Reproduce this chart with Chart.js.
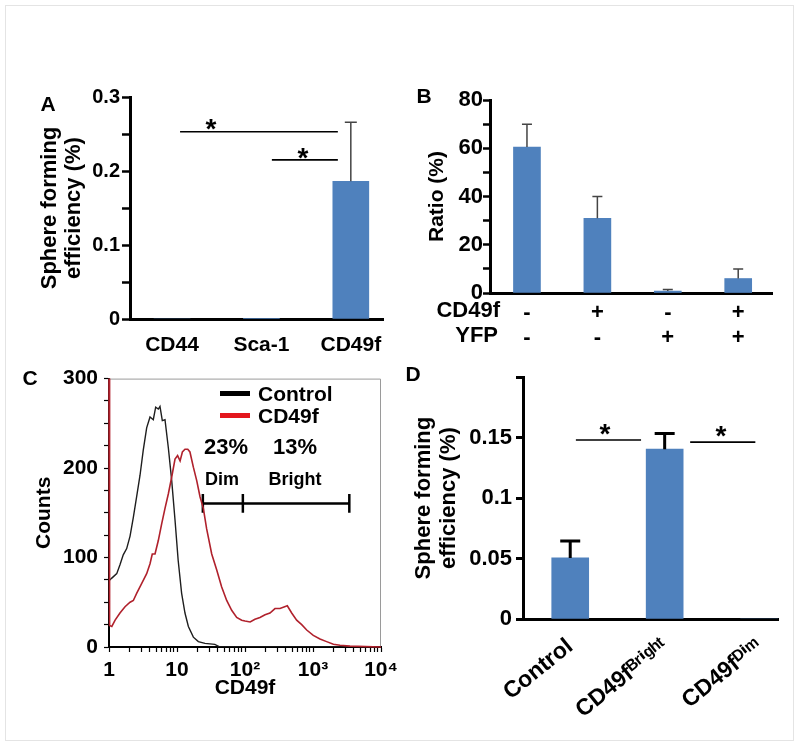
<!DOCTYPE html>
<html>
<head>
<meta charset="utf-8">
<script src="https://cdn.jsdelivr.net/npm/chart.js@4"></script>
<style>
  body { margin: 0; width: 800px; height: 749px; position: relative; overflow: hidden; background: #fff;
         font-family: "Liberation Sans", Arial, "DejaVu Sans", sans-serif; font-weight: bold; color: #000; }
  .frame { position: absolute; left: 5px; top: 5px; width: 789px; height: 736px; box-sizing: border-box; border: 1px solid #e4e4e4; }
  canvas { position: absolute; }
  .t { position: absolute; white-space: nowrap; line-height: 1; transform: translate(-50%, -50%); }
  .l { transform: translate(0, -50%); }
  .r { transform: translate(-100%, -50%); }
  .sw { position: absolute; height: 5px; }
</style>
</head>
<body>
<div class="frame"></div>

<canvas id="cA" width="400" height="320" style="left:0;top:60px"></canvas>
<canvas id="cB" width="400" height="300" style="left:400px;top:60px"></canvas>
<canvas id="cC" width="400" height="360" style="left:0;top:360px"></canvas>
<canvas id="cD" width="400" height="380" style="left:400px;top:360px"></canvas>

<!-- panel letters -->
<div class="t" style="left:48px;top:103px;font-size:21px">A</div>
<div class="t" style="left:424px;top:95px;font-size:21px">B</div>
<div class="t" style="left:30px;top:377px;font-size:21px">C</div>
<div class="t" style="left:413px;top:373px;font-size:21px">D</div>

<!-- significance stars -->
<div class="t" style="left:211px;top:129px;font-size:28px">*</div>
<div class="t" style="left:303px;top:158px;font-size:28px">*</div>
<div class="t" style="left:605px;top:434px;font-size:28px">*</div>
<div class="t" style="left:721px;top:436px;font-size:28px">*</div>

<!-- panel B row headers -->
<div class="t r" style="left:500px;top:310px;font-size:22px">CD49f</div>
<div class="t r" style="left:498px;top:335px;font-size:22px">YFP</div>

<!-- panel C legend and gate labels -->
<div class="sw" style="left:220px;top:391px;width:30px;background:#000"></div>
<div class="t l" style="left:258px;top:393px;font-size:21px">Control</div>
<div class="sw" style="left:220px;top:413px;width:30px;background:#e3161d"></div>
<div class="t l" style="left:258px;top:415px;font-size:21px">CD49f</div>
<div class="t" style="left:226px;top:447px;font-size:22px">23%</div>
<div class="t" style="left:295px;top:447px;font-size:22px">13%</div>
<div class="t" style="left:222px;top:479px;font-size:18px">Dim</div>
<div class="t" style="left:295px;top:479px;font-size:18px">Bright</div>

<script>
// ---- panel A: sphere forming efficiency by marker
const aLabels = ["CD44", "Sca-1", "CD49f"];
const aValues = [0, 0.0008, 0.186];
const aErrors = [0, 0, 0.08];

// ---- panel B: ratio by CD49f / YFP status
const bCd49f = ["-", "+", "-", "+"];
const bYfp = ["-", "-", "+", "+"];
const bValues = [60.5, 31, 0.8, 6];
const bErrors = [9.5, 9, 0.7, 4];

// ---- panel C: flow histogram (CD49f intensity, counts)
const ctrlX = [1.0, 1.1, 1.3, 1.45, 1.62, 1.82, 2.04, 2.28, 2.55, 2.86, 3.19, 3.58, 4.01, 4.48, 4.86,
  5.31, 5.62, 6.08, 6.66, 7.45, 8.36, 9.35, 10.4, 11.7, 13.1, 14.7, 17.4, 20.6, 25.8, 36, 43, 10000];
const ctrlY = [74, 77, 82, 92, 103, 110, 124, 145, 168, 192, 220, 245, 257, 254, 268,
  266, 269, 253, 254, 223, 186, 142, 97, 60, 38, 23, 11, 6, 4, 3, 0, 0];
const cd49fX = [1.0, 1.02, 1.1, 1.23, 1.45, 1.72, 2.04, 2.28, 2.55, 3.03, 3.58, 4.01, 4.33, 4.75, 5.31,
  5.96, 6.66, 7.45, 8.36, 9.35, 10.2, 11.1, 12.0, 13.1, 14.4, 15.5, 17.4, 19.5, 21.8, 24.4, 27.3, 32.4,
  38.4, 45.4, 53.8, 63.7, 75.5, 89.4, 100, 119, 140, 166, 197, 233, 276, 327, 419, 486, 575, 682, 808,
  1010, 1267, 1585, 1995, 2495, 3500, 10000];
const cd49fY = [300, 24, 23, 30, 38, 45, 50, 52, 60, 71, 82, 93, 104, 104, 119,
  138, 155, 171, 190, 210, 214, 208, 218, 221, 221, 218, 201, 186, 168, 155, 132, 104,
  86, 67, 52, 41, 33, 30, 29, 28, 31, 33, 36, 38, 43, 43, 46, 38, 30, 25, 19,
  13, 9, 6, 3, 2, 1, 0];
const gateX = [24, 93, 3420];
const gateY = 160.5;
const gateCap = 10.5;
const cMajor = [1, 10, 100, 1000, 10000];
const cMajorLabels = ["1", "10", "10²", "10³", "10⁴"];

// ---- panel D: sorted populations
const dLabels = ["Control", "CD49fᴮʳⁱᵍʰᵗ", "CD49fᴰⁱᵐ"];
const dValues = [0.0505, 0.1405, 0];
const dErrors = [0.014, 0.013, 0];

const BLUE = "#4f81bd";

Chart.defaults.font.family = "'Liberation Sans', Arial, 'DejaVu Sans', sans-serif";
Chart.defaults.font.weight = "bold";
Chart.defaults.color = "#000";
Chart.defaults.animation = false;
Chart.defaults.responsive = false;
Chart.defaults.plugins.legend.display = false;
Chart.defaults.plugins.tooltip.enabled = false;

const errorBars = {
  id: "errorBars",
  afterDatasetsDraw(chart, args, o) {
    const { ctx } = chart;
    const y = chart.scales.y;
    const bars = chart.getDatasetMeta(0).data;
    ctx.save();
    ctx.strokeStyle = o.color;
    ctx.lineWidth = o.width;
    o.errors.forEach((e, i) => {
      if (!e) return;
      const x = bars[i].x;
      const top = y.getPixelForValue(o.values[i] + e);
      ctx.beginPath();
      ctx.moveTo(x, bars[i].y);
      ctx.lineTo(x, top);
      ctx.moveTo(x - o.cap / 2, top);
      ctx.lineTo(x + o.cap / 2, top);
      ctx.stroke();
    });
    ctx.restore();
  },
};

const boxFrame = {
  id: "boxFrame",
  beforeDatasetsDraw(chart, args, o) {
    const { ctx, chartArea: a } = chart;
    ctx.save();
    ctx.strokeStyle = o.color;
    ctx.lineWidth = 1;
    ctx.beginPath();
    ctx.moveTo(a.left, a.top + 0.5);
    ctx.lineTo(a.right - 0.5, a.top + 0.5);
    ctx.lineTo(a.right - 0.5, a.bottom);
    ctx.stroke();
    ctx.restore();
  },
};

function sigLine(x0, x1, y) {
  return {
    type: "line", data: [{ x: x0, y }, { x: x1, y }],
    borderColor: "#000", borderWidth: 1.6, pointRadius: 0,
  };
}

function yAxis(o) {
  return {
    min: o.min, max: o.max,
    afterFit: (s) => { s.width = o.width; },
    ticks: { stepSize: o.step, callback: o.fmt, font: { size: o.size }, padding: o.pad, autoSkip: false },
    grid: { drawOnChartArea: false, drawTicks: true, tickLength: o.tick, tickWidth: o.tickWidth, tickColor: "#000" },
    border: { display: true, color: "#000", width: o.border },
    title: o.title,
  };
}

function catAxis(o) {
  return {
    type: "linear", offset: false, min: o.min, max: o.max,
    afterBuildTicks: (s) => { s.ticks = o.labels.map((_, i) => ({ value: i + 1 })); },
    afterFit: (s) => { s.height = o.height; },
    grid: { display: false },
    border: { display: true, color: "#000", width: o.border },
    ticks: {
      callback: (v) => o.labels[v - 1], font: { size: o.size, lineHeight: o.lineHeight || 1.2 },
      padding: o.pad, autoSkip: false, minRotation: o.rot || 0, maxRotation: o.rot || 0,
    },
  };
}

// ---------- A
new Chart(document.getElementById("cA"), {
  type: "bar",
  data: {
    datasets: [
      { data: aValues.map((v, i) => ({ x: i + 1, y: v })), backgroundColor: BLUE, barThickness: 36 },
      sigLine(1.09, 2.855, 0.253),
      sigLine(2.117, 2.855, 0.215),
    ],
  },
  options: {
    layout: { padding: { top: 37, right: 17, left: 0, bottom: 0 } },
    plugins: { errorBars: { values: aValues, errors: aErrors, color: "#444", width: 1.5, cap: 12 } },
    scales: {
      x: catAxis({ labels: aLabels, min: 0.53, max: 3.36, height: 61, size: 21, pad: 6, border: 3 }),
      y: yAxis({
        min: 0, max: 0.3, step: 0.05, width: 130, size: 20, pad: 2, tick: 8, tickWidth: 2.5, border: 3,
        fmt: (v) => { const r = Math.round(v * 100); return r % 10 === 0 ? String(r / 100) : ""; },
        title: { display: true, text: ["Sphere forming", "efficiency (%)"], font: { size: 22, lineHeight: 1.1 }, padding: { top: 38, bottom: 0 } },
      }),
    },
  },
  plugins: [errorBars],
});

// ---------- B
new Chart(document.getElementById("cB"), {
  type: "bar",
  data: {
    datasets: [
      { data: bValues.map((v, i) => ({ x: i + 1, y: v })), backgroundColor: BLUE, barThickness: 27 },
    ],
  },
  options: {
    layout: { padding: { top: 40, right: 28, left: 0, bottom: 0 } },
    plugins: { errorBars: { values: bValues, errors: bErrors, color: "#444", width: 1.5, cap: 10 } },
    scales: {
      x: catAxis({
        labels: bCd49f.map((c, i) => [c, bYfp[i]]), min: 0.475, max: 4.48, height: 67,
        size: 22, lineHeight: 1.12, pad: 0, border: 3,
      }),
      y: yAxis({
        min: 0, max: 80, step: 10, width: 90, size: 22, pad: 0, tick: 7, tickWidth: 2.5, border: 3,
        fmt: (v) => (v % 20 === 0 ? String(v) : ""),
        title: { display: true, text: "Ratio (%)", font: { size: 21, lineHeight: 1.2 }, padding: { top: 25, bottom: 0 } },
      }),
    },
  },
  plugins: [errorBars],
});

// ---------- C
const gateData = [
  { x: gateX[0], y: gateY - gateCap }, { x: gateX[0], y: gateY + gateCap }, { x: gateX[0], y: null },
  { x: gateX[0], y: gateY }, { x: gateX[2], y: gateY }, { x: gateX[2], y: null },
  { x: gateX[1], y: gateY - gateCap }, { x: gateX[1], y: gateY + gateCap }, { x: gateX[1], y: null },
  { x: gateX[2], y: gateY - gateCap }, { x: gateX[2], y: gateY + gateCap },
];

new Chart(document.getElementById("cC"), {
  type: "line",
  data: {
    datasets: [
      { data: cd49fX.map((x, i) => ({ x, y: cd49fY[i] })), borderColor: "#b0212c", borderWidth: 1.6, pointRadius: 0, clip: false },
      { data: ctrlX.map((x, i) => ({ x, y: ctrlY[i] })), borderColor: "#1e1e1e", borderWidth: 1.4, pointRadius: 0 },
      { data: gateData, borderColor: "#000", borderWidth: 2.5, pointRadius: 0, spanGaps: false },
    ],
  },
  options: {
    layout: { padding: { top: 18, right: 19, left: 0, bottom: 0 } },
    plugins: { boxFrame: { color: "#9a9a9a" } },
    scales: {
      x: {
        type: "logarithmic", min: 1, max: 10000,
        afterBuildTicks: (s) => {
          const t = [];
          for (let d = 1; d < 10000; d *= 10) for (let k = 1; k < 10; k++) t.push({ value: d * k });
          t.push({ value: 10000 });
          s.ticks = t;
        },
        // keep the plot right edge where the figure has it, the last label may overhang
        afterFit: (s) => { s.height = 73; s.paddingLeft = 0; s.paddingRight = 0; },
        ticks: {
          callback: (v) => { const i = cMajor.indexOf(v); return i >= 0 ? cMajorLabels[i] : ""; },
          font: { size: 21 }, padding: 6, autoSkip: false, maxRotation: 0, minRotation: 0,
        },
        grid: { drawOnChartArea: false, drawTicks: true, tickLength: 5, tickWidth: 1.2, tickColor: "#000" },
        border: { display: true, color: "#000", width: 2 },
        title: { display: true, text: "CD49f", font: { size: 21, lineHeight: 1.2 }, padding: { top: 0, bottom: 19 } },
      },
      y: yAxis({
        min: 0, max: 300, step: 25, width: 109, size: 21, pad: 6, tick: 5, tickWidth: 1.2, border: 2,
        fmt: (v) => (v % 100 === 0 ? String(v) : ""),
        title: { display: true, text: "Counts", font: { size: 21, lineHeight: 1.2 }, padding: { top: 32, bottom: 0 } },
      }),
    },
  },
  plugins: [boxFrame],
});

// ---------- D
new Chart(document.getElementById("cD"), {
  type: "bar",
  data: {
    datasets: [
      { data: dValues.map((v, i) => ({ x: i + 1, y: v })), backgroundColor: BLUE, barThickness: 37 },
      sigLine(1.06, 1.75, 0.148),
      sigLine(2.27, 2.96, 0.1463),
    ],
  },
  options: {
    layout: { padding: { top: 15, right: 22, left: 0, bottom: 0 } },
    plugins: { errorBars: { values: dValues, errors: dErrors, color: "#000", width: 3, cap: 20 } },
    scales: {
      x: catAxis({ labels: dLabels, min: 0.5, max: 3.2, height: 121, size: 23, pad: 6, border: 3, rot: 39 }),
      y: yAxis({
        min: 0, max: 0.2, step: 0.05, width: 123, size: 22, pad: 4, tick: 7, tickWidth: 3, border: 3,
        fmt: (v) => { const r = Math.round(v * 100) / 100; return r === 0.2 ? "" : String(r); },
        title: { display: true, text: ["Sphere forming", "efficiency (%)"], font: { size: 22, lineHeight: 1.15 }, padding: { top: 11, bottom: 0 } },
      }),
    },
  },
  plugins: [errorBars],
});
</script>
</body>
</html>
